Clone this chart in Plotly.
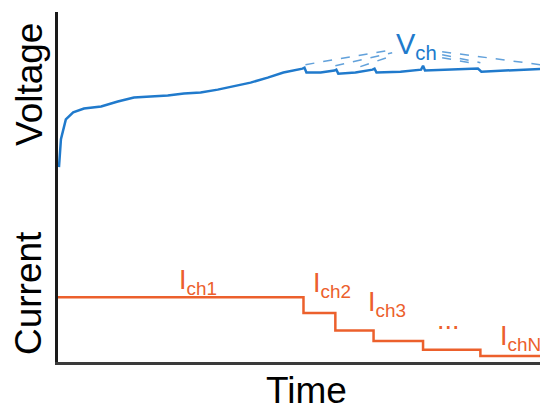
import plotly.graph_objects as go

# ---- data (arbitrary units) ----
# Voltage curve (time, volts)
v_time = [0.2, 0.6, 1.6, 3.1, 5.3, 8.8, 12.2, 15.5, 18.9, 22.4, 25.7, 29.1, 32.6, 35.8, 39.3, 42.8, 46.0, 49.9,
          50.3, 50.7, 53.6, 56.4, 56.8, 57.2, 60.7, 64.2, 64.6, 65.0, 69.9, 74.1, 74.5, 74.9, 80.0, 85.7, 86.4, 92.3, 100.0]
v_vals = [3.281, 3.464, 3.594, 3.640, 3.666, 3.679, 3.712, 3.738, 3.745, 3.751, 3.764, 3.771, 3.790, 3.810, 3.836,
          3.869, 3.902, 3.928, 3.934, 3.902, 3.902, 3.915, 3.921, 3.895, 3.902, 3.921, 3.928, 3.902, 3.908, 3.921,
          3.947, 3.915, 3.921, 3.928, 3.908, 3.915, 3.928]

# Dashed extrapolation lines toward V_ch (start time, start V, end time, end V)
dash_t0 = [50.5, 56.6, 61.7, 78.4, 78.4, 78.4]
dash_v0 = [3.954, 3.947, 3.941, 4.039, 4.019, 3.999]
dash_t1 = [68.2, 68.2, 68.2, 100.0, 86.2, 84.1]
dash_v1 = [4.052, 4.032, 4.012, 3.947, 3.967, 3.967]

# Current steps
i_step_times = [0.0, 50.1, 56.6, 64.4, 74.5, 86.2, 100.0]
i_levels = [3.7, 2.8, 1.8, 1.2, 0.7, 0.35]

axis_titles = ["Voltage", "Current", "Time"]
current_labels = ["I<sub>ch1</sub>", "I<sub>ch2</sub>", "I<sub>ch3</sub>", "...", "I<sub>chN</sub>"]
voltage_label = "V<sub>ch</sub>"

BLUE = "rgb(32,122,204)"
ORANGE = "rgb(236,96,44)"
FONT = "Liberation Sans, Arial, sans-serif"

fig = go.Figure()

# current staircase
cx, cy = [], []
for k, lvl in enumerate(i_levels):
    cx += [i_step_times[k], i_step_times[k + 1]]
    cy += [lvl, lvl]
fig.add_trace(go.Scatter(x=cx, y=cy, mode="lines", line=dict(color=ORANGE, width=2.5),
                         yaxis="y", hoverinfo="skip"))

# voltage curve
fig.add_trace(go.Scatter(x=v_time, y=v_vals, mode="lines", line=dict(color=BLUE, width=2.5),
                         yaxis="y2", hoverinfo="skip"))

# dashed lines
for a, b, c, d in zip(dash_t0, dash_v0, dash_t1, dash_v1):
    fig.add_trace(go.Scatter(x=[a, c], y=[b, d], mode="lines",
                             line=dict(color=BLUE, width=1.5, dash="dash"),
                             yaxis="y2", hoverinfo="skip", opacity=0.7))

# page body has an 8px margin: figure is laid out so the plot lands where the reference has it
fig.update_layout(
    width=540, height=400,
    margin=dict(l=50, r=0, t=4, b=46),
    paper_bgcolor="white", plot_bgcolor="white",
    showlegend=False,
    xaxis=dict(range=[0, 100], showgrid=False, zeroline=False, showticklabels=False, ticks="",
               showline=True, linecolor="#3a3a3a", linewidth=3, fixedrange=True),
    yaxis=dict(range=[0, 20], showgrid=False, zeroline=False, showticklabels=False, ticks="",
               showline=True, linecolor="#1a1a1a", linewidth=3),
    yaxis2=dict(range=[2.0, 4.3], overlaying="y", showgrid=False, zeroline=False,
                showticklabels=False, ticks="", showline=False),
)

# screen -> paper helpers (plot area on screen: x 58..548, y 12..362)
L, R, T, B = 58.0, 548.0, 12.0, 362.0

def pxx(p):
    return (p - L) / (R - L)

def pxy(p):
    return (B - p) / (B - T)

ann = []
ann.append(dict(text=axis_titles[0], x=30, y=85, textangle=-90, font=dict(size=37, color="black", family=FONT)))
ann.append(dict(text=axis_titles[1], x=28, y=293, textangle=-90, font=dict(size=37, color="black", family=FONT)))
ann.append(dict(text=axis_titles[2], x=306, y=391, textangle=0, font=dict(size=37, color="black", family=FONT)))
lab_pos = [(198, 282), (332, 285), (387, 304), (448, 320), (520, 338)]
for t, (px, py) in zip(current_labels, lab_pos):
    ann.append(dict(text=t, x=px, y=py, font=dict(size=27, color=ORANGE, family=FONT)))
ann.append(dict(text=voltage_label, x=416, y=46, font=dict(size=29, color=BLUE, family=FONT)))

for a in ann:
    fig.add_annotation(x=pxx(a["x"]), y=pxy(a["y"]), xref="paper", yref="paper",
                       text=a["text"], textangle=a.get("textangle", 0), showarrow=False,
                       font=a["font"], xanchor="center", yanchor="middle")

fig.write_html("out.html")
